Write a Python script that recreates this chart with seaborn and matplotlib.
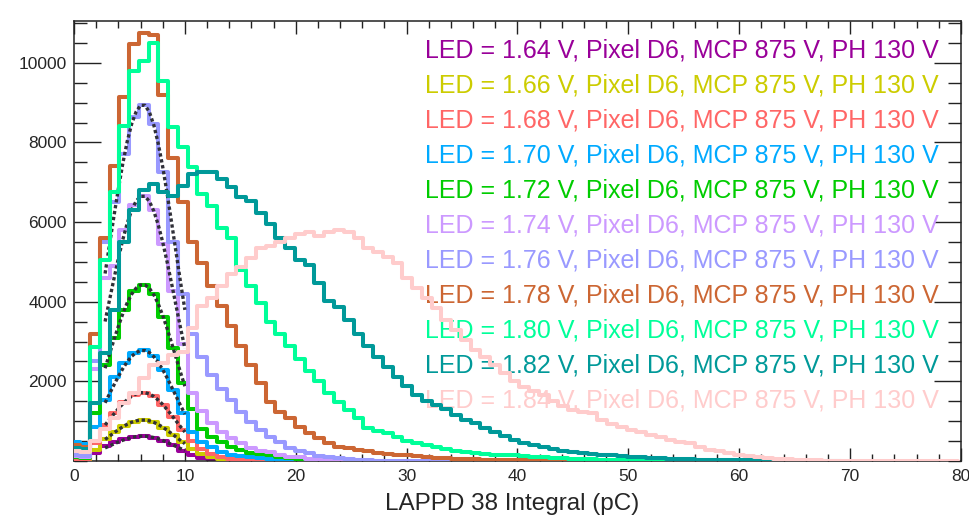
import numpy as np
import pandas as pd
import matplotlib.pyplot as plt
from matplotlib.ticker import MultipleLocator, FixedLocator
import seaborn as sns

# ---------------------------------
# Histogram contents (counts per bin)
# bins are 0.88 pC wide, first bin starts at -0.31 pC
# ---------------------------------

led_voltages = ["1.64", "1.66", "1.68", "1.70", "1.72", "1.74",
                "1.76", "1.78", "1.80", "1.82", "1.84"]

line_colors = ["#990099", "#CCCC00", "#FF6666", "#00AAFF", "#00CC00", "#CC99FF",
               "#9999FF", "#CC6633", "#00FF99", "#009999", "#FFCCCC"]

counts_164 = [30, 20, 200, 380, 480, 560, 615, 625, 590, 510, 400, 260, 150, 85,
              45, 22, 10, 5]

counts_166 = [40, 30, 280, 560, 730, 880, 990, 1030, 975, 840, 660, 470, 300, 170,
              90, 45, 22, 10, 5]

counts_168 = [60, 50, 450, 900, 1200, 1470, 1660, 1720, 1630, 1400, 1100, 790, 500,
              300, 180, 105, 60, 35, 20, 10, 5]

counts_170 = [480, 430, 860, 1530, 2100, 2450, 2700, 2780, 2630, 2280, 1780, 1200,
              720, 480, 360, 235, 150, 130, 100, 80, 60, 40, 25, 15, 8, 4, 2]

counts_172 = [100, 80, 1200, 2400, 3100, 3800, 4280, 4430, 4190, 3620, 2840, 1950,
              1300, 800, 610, 485, 360, 275, 210, 170, 150, 110, 80, 55, 35, 20,
              10, 5, 2]

counts_174 = [130, 100, 2300, 4600, 4900, 5800, 6430, 6660, 6300, 5440, 4260, 2950,
              1700, 1250, 950, 735, 575, 450, 325, 240, 230, 150, 110, 95, 55, 50,
              45, 40, 25, 15, 10, 6, 4, 2, 1]

counts_176 = [150, 120, 2500, 5500, 6500, 7700, 8650, 8950, 8470, 7250, 5500, 4200,
              3200, 2600, 2150, 1800, 1530, 1220, 980, 780, 600, 475, 330, 240, 200,
              130, 100, 75, 50, 35, 20, 10, 8, 6, 4, 3, 2, 2, 1, 1, 1, 1, 1]

counts_178 = [400, 360, 3200, 5600, 7400, 9150, 10470, 10760, 10700, 9200, 7600,
              6500, 5500, 4960, 4400, 3900, 3400, 2900, 2400, 1950, 1490, 1235, 1075,
              860, 700, 575, 450, 360, 325, 275, 240, 210, 180, 160, 140, 120, 100,
              85, 70, 60, 50, 42, 35, 28, 22, 18, 14, 10, 8, 5, 3, 2]

counts_180 = [300, 270, 2860, 5040, 6750, 8420, 9800, 10050, 10500, 9550, 8380,
              7880, 7380, 6700, 6400, 5840, 5590, 4790, 4400, 3960, 3500, 3200, 2900,
              2550, 2250, 2000, 1700, 1480, 1280, 1080, 830, 760, 700, 600, 500, 440,
              390, 350, 300, 260, 230, 200, 180, 160, 160, 140, 120, 105, 90, 75, 65,
              55, 48, 42, 36, 30, 25, 20, 16, 12, 9, 7, 5, 3, 2]

counts_182 = [330, 300, 1450, 2700, 3780, 5500, 6300, 6800, 6950, 6750, 6650, 6900,
              7200, 7270, 7270, 7090, 6870, 6620, 6540, 6240, 5960, 5590, 5340, 5040,
              4910, 4460, 4030, 3860, 3530, 3200, 2900, 2610, 2350, 2110, 1880, 1650,
              1500, 1400, 1300, 1150, 1030, 950, 830, 720, 620, 540, 460, 400, 360,
              310, 260, 220, 200, 180, 160, 140, 125, 110, 95, 80, 68, 57, 48, 40,
              35, 30, 25, 21, 18, 15, 12, 10, 8, 6, 5, 4, 3, 2, 1]

counts_184 = [250, 220, 500, 800, 1080, 1450, 1700, 2080, 2400, 2450, 2650, 2750,
              3330, 3900, 4100, 4400, 4700, 4860, 5100, 5340, 5410, 5500, 5590, 5710,
              5750, 5660, 5750, 5790, 5750, 5590, 5340, 5250, 5120, 4960, 4600, 4350,
              4100, 3850, 3550, 3300, 3050, 2800, 2600, 2400, 2200, 2000, 1850, 1750,
              1650, 1500, 1380, 1280, 1230, 1200, 1030, 920, 860, 780, 735, 660, 610,
              525, 480, 445, 360, 275, 240, 210, 150, 120, 93, 70, 58, 45, 35, 25,
              18, 12, 8, 6, 5, 4, 3, 3, 2, 2, 2, 1, 1, 1, 1]

# ---------------------------------
# Fitted curves (dotted)
# ---------------------------------

fit_x = [2.8, 3.2, 3.6, 4.0, 4.4, 4.8, 5.2, 5.6, 6.0, 6.4, 6.8, 7.2, 7.6, 8.0,
         8.4, 8.8, 9.2, 9.6, 10.0]

fit_164 = [329, 379, 429, 478, 522, 561, 591, 613, 624, 624, 612, 589, 556, 516,
           469, 418, 366, 314, 265]
fit_166 = [542, 625, 708, 787, 860, 924, 974, 1009, 1028, 1028, 1008, 970, 917,
           850, 773, 689, 604, 518, 437]
fit_168 = [905, 1044, 1182, 1314, 1436, 1543, 1627, 1686, 1717, 1717, 1684, 1620,
           1531, 1419, 1290, 1151, 1008, 865, 729]
fit_170 = [1462, 1687, 1910, 2124, 2321, 2494, 2630, 2724, 2774, 2774, 2722, 2619,
           2474, 2294, 2085, 1860, 1629, 1398, 1179]
fit_172 = [2330, 2689, 3043, 3385, 3699, 3974, 4191, 4341, 4421, 4421, 4337, 4173,
           3943, 3655, 3323, 2964, 2596, 2228, 1878]
fit_174 = [3503, 4043, 4575, 5088, 5561, 5974, 6300, 6527, 6647, 6647, 6520, 6274,
           5927, 5495, 4995, 4456, 3903, 3350, 2824]
fit_176 = [4708, 5433, 6149, 6838, 7473, 8028, 8467, 8771, 8932, 8932, 8762, 8431,
           7966, 7384, 6713, 5988, 5245, 4502, 3795]

all_counts = [counts_164, counts_166, counts_168, counts_170, counts_172, counts_174,
              counts_176, counts_178, counts_180, counts_182, counts_184]
all_fits = [fit_164, fit_166, fit_168, fit_170, fit_172, fit_174, fit_176,
            None, None, None, None]

bin_width = 0.88
first_edge = -0.31

# ---------------------------------
# Style
# ---------------------------------

sns.set_style("ticks")
plt.rcParams["font.family"] = ["Liberation Sans", "DejaVu Sans"]

fig = plt.figure(figsize=(9.69, 5.18), dpi=100)
ax = fig.add_axes([0.0764, 0.110, 0.9153, 0.8495])

# ---------------------------------
# Draw histograms + fits
# ---------------------------------

z = 2
for volt, color, counts, fit in zip(led_voltages, line_colors, all_counts, all_fits):
    n = len(counts)
    edges = first_edge + bin_width * np.arange(n + 1)
    hist_df = pd.DataFrame({
        "pc": edges[:-1] + bin_width / 2,
        "counts": counts,
    })
    sns.histplot(
        data=hist_df,
        x="pc",
        weights="counts",
        bins=list(edges),
        element="step",
        fill=False,
        color=color,
        linewidth=2.9,
        ax=ax,
        zorder=z,
    )
    z += 1
    if fit is not None:
        fit_df = pd.DataFrame({"pc": fit_x, "value": fit})
        sns.lineplot(
            data=fit_df,
            x="pc",
            y="value",
            color="#303038",
            linewidth=2.4,
            linestyle=(0, (1.0, 0.8)),
            ax=ax,
            zorder=z,
        )
        z += 1

# ---------------------------------
# Legend-like labels (coloured text, drawn under the lines)
# ---------------------------------

for i, (volt, color) in enumerate(zip(led_voltages, line_colors)):
    ax.text(
        0.975, 0.917 - i * 0.0795,
        f"LED = {volt} V, Pixel D6, MCP 875 V, PH 130 V",
        color=color,
        fontsize=18,
        ha="right",
        va="baseline",
        transform=ax.transAxes,
        zorder=1,
    )

# ---------------------------------
# Axes
# ---------------------------------

ax.set_xlim(0, 80)
ax.set_ylim(0, 11050)

ax.xaxis.set_major_locator(MultipleLocator(10))
ax.xaxis.set_minor_locator(MultipleLocator(2))
ax.yaxis.set_major_locator(FixedLocator([2000, 4000, 6000, 8000, 10000]))
ax.yaxis.set_minor_locator(MultipleLocator(500))

ax.tick_params(which="both", direction="in", top=True, right=True,
               width=1.0, color="#222222", labelsize=12.5)
ax.tick_params(axis="x", which="major", length=9.4, pad=6)
ax.tick_params(axis="x", which="minor", length=4.7)
ax.tick_params(axis="y", which="major", length=19.5, pad=5)
ax.tick_params(axis="y", which="minor", length=9.5)

for side in ax.spines.values():
    side.set_linewidth(1.1)
    side.set_color("#222222")

ax.set_ylabel("")
ax.set_xlabel("LAPPD 38 Integral (pC)", fontsize=17.5)
ax.xaxis.set_label_coords(0.494, -0.072)

fig.savefig("out.png", dpi=100)
